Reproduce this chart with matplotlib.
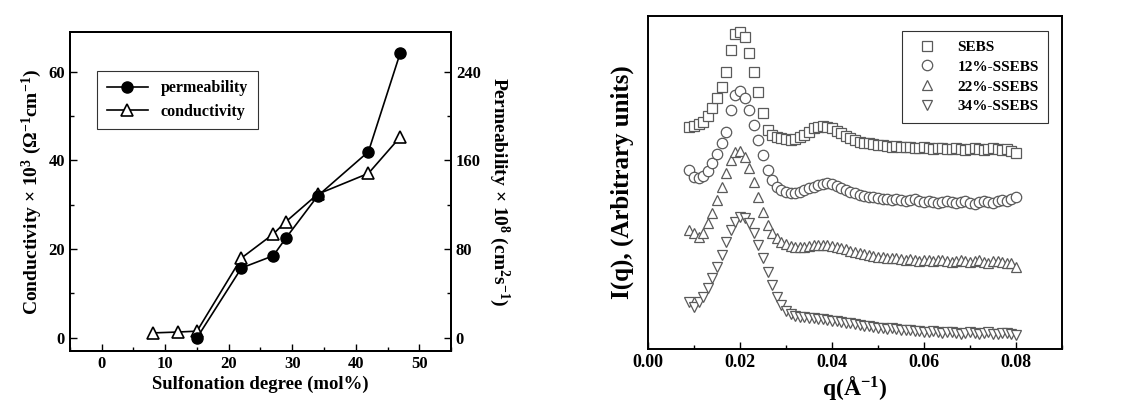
import matplotlib
matplotlib.use("Agg")
import matplotlib.pyplot as plt
from matplotlib.ticker import MultipleLocator, FormatStrFormatter

plt.rcParams['font.family'] = ['Liberation Serif', 'DejaVu Serif']
plt.rcParams['font.weight'] = 'bold'
plt.rcParams['mathtext.fontset'] = 'custom'
plt.rcParams['mathtext.rm'] = 'Liberation Serif:bold'
plt.rcParams['mathtext.it'] = 'Liberation Serif:bold'
plt.rcParams['mathtext.bf'] = 'Liberation Serif:bold'

# left panel: sulfonation degree data
cond_x = [8, 12, 15, 22, 27, 29, 34, 42, 47]
cond_y = [1.1, 1.3, 1.5, 18.0, 23.4, 26.2, 32.4, 37.1, 45.3]
perm_x = [15, 22, 27, 29, 34, 42, 47]
perm_y = [0, 63, 74, 90, 128, 168, 257]

# right panel: SAXS profiles (arbitrary units)
q = [0.009, 0.010, 0.011, 0.012, 0.013, 0.014, 0.015, 0.016, 0.017, 0.018,
     0.019, 0.020, 0.021, 0.022, 0.023, 0.024, 0.025, 0.026, 0.027, 0.028,
     0.029, 0.030, 0.031, 0.032, 0.033, 0.034, 0.035, 0.036, 0.037, 0.038,
     0.039, 0.040, 0.041, 0.042, 0.043, 0.044, 0.045, 0.046, 0.047, 0.048,
     0.049, 0.050, 0.051, 0.052, 0.053, 0.054, 0.055, 0.056, 0.057, 0.058,
     0.059, 0.060, 0.061, 0.062, 0.063, 0.064, 0.065, 0.066, 0.067, 0.068,
     0.069, 0.070, 0.071, 0.072, 0.073, 0.074, 0.075, 0.076, 0.077, 0.078,
     0.079, 0.080]
sebs = [667, 669, 675, 682, 699, 722, 752, 787, 832, 897, 947, 952, 937, 887,
        832, 772, 707, 657, 642, 637, 632, 629, 627, 629, 635, 642, 652, 662,
        667, 669, 667, 662, 655, 647, 639, 632, 627, 622, 619, 617, 615, 612,
        611, 609, 607, 610, 607, 605, 607, 604, 602, 605, 603, 600, 602, 604,
        601, 599, 602, 600, 598, 601, 603, 600, 597, 601, 603, 599, 597, 600,
        595, 589]
ssebs12 = [537, 517, 512, 519, 535, 557, 585, 617, 652, 717, 762, 775, 752, 717,
           672, 627, 582, 537, 507, 487, 477, 470, 467, 469, 472, 477, 482, 487,
           492, 495, 497, 495, 489, 482, 477, 472, 467, 462, 459, 457, 455, 453,
           451, 449, 447, 450, 447, 444, 447, 449, 445, 442, 445, 441, 437, 442,
           444, 440, 437, 441, 444, 439, 435, 441, 445, 442, 439, 444, 447, 445,
           449, 457]
ssebs22 = [357, 347, 337, 347, 377, 407, 447, 487, 527, 567, 592, 595, 577, 542,
           502, 457, 412, 372, 347, 332, 322, 315, 309, 305, 305, 307, 310, 312,
           313, 312, 311, 309, 306, 302, 299, 295, 291, 287, 284, 281, 279, 277,
           275, 273, 272, 274, 271, 268, 270, 267, 265, 268, 266, 263, 266, 268,
           265, 262, 265, 267, 263, 260, 264, 266, 262, 259, 263, 265, 261, 258,
           257, 247]
ssebs34 = [142, 127, 142, 157, 182, 212, 247, 282, 322, 357, 382, 395, 392, 377,
           347, 312, 272, 232, 192, 157, 132, 115, 105, 99, 97, 95, 94, 92,
           91, 89, 87, 85, 83, 81, 79, 77, 75, 73, 70, 68, 66, 64,
           63, 61, 62, 59, 57, 58, 56, 53, 55, 52, 50, 53, 51, 48,
           50, 52, 49, 46, 48, 50, 47, 45, 48, 50, 46, 44, 47, 49,
           45, 42]
saxs_labels = ['SEBS', '12%-SSEBS', '22%-SSEBS', '34%-SSEBS']
saxs_markers = ['s', 'o', '^', 'v']

fig = plt.figure(figsize=(11.25, 4.15), dpi=100)

# ---- left panel ----
ax = fig.add_axes([0.0622, 0.154, 0.3387, 0.769])
ax2 = ax.twinx()
l_cond, = ax.plot(cond_x, cond_y, '-', color='black', lw=1.2, marker='^',
                  ms=8.5, mfc='white', mec='black', mew=1.2, label='conductivity')
l_perm, = ax2.plot(perm_x, perm_y, '-', color='black', lw=1.2, marker='o',
                   ms=8, mfc='black', mec='black', label='permeability')
ax.set_xlim(-5, 55)
ax.set_ylim(-3, 69)
ax2.set_ylim(-12, 276)
ax.xaxis.set_major_locator(MultipleLocator(10))
ax.xaxis.set_minor_locator(MultipleLocator(5))
ax.yaxis.set_major_locator(MultipleLocator(20))
ax.yaxis.set_minor_locator(MultipleLocator(10))
ax2.yaxis.set_major_locator(MultipleLocator(80))
ax2.yaxis.set_minor_locator(MultipleLocator(40))
for a in (ax, ax2):
    a.tick_params(which='both', direction='in', labelsize=12)
    a.tick_params(which='major', length=5, width=1)
    a.tick_params(which='minor', length=3, width=1)
    for s in a.spines.values():
        s.set_linewidth(1.4)
ax.set_xlabel('Sulfonation degree (mol%)', fontsize=13.5, fontweight='bold', labelpad=3)
ax.set_ylabel('Conductivity × 10$^3$ (Ω$^{-1}$cm$^{-1}$)', fontsize=14,
              fontweight='bold', labelpad=3)
ax2.set_ylabel('Permeability × 10$^8$ (cm$^2$s$^{-1}$)', fontsize=14,
               fontweight='bold', rotation=270, labelpad=22)
leg = ax2.legend([l_perm, l_cond], ['permeability', 'conductivity'],
                 loc='upper left', bbox_to_anchor=(0.071, 0.878), fontsize=11.5,
                 frameon=True, fancybox=False, edgecolor='black',
                 handlelength=2.6, labelspacing=0.45, borderpad=0.6,
                 borderaxespad=0)
leg.get_frame().set_linewidth(0.8)

# ---- right panel ----
bx = fig.add_axes([0.576, 0.159, 0.368, 0.802])
for yv, lab, mk in zip([sebs, ssebs12, ssebs22, ssebs34], saxs_labels, saxs_markers):
    bx.plot(q, yv, linestyle='none', marker=mk, ms=7.5, mfc='white',
            mec='#5a5a5a', mew=0.9, label=lab)
bx.set_xlim(0, 0.09)
bx.set_ylim(0, 999)
bx.xaxis.set_major_locator(MultipleLocator(0.02))
bx.xaxis.set_minor_locator(MultipleLocator(0.01))
bx.xaxis.set_major_formatter(FormatStrFormatter('%.2f'))
bx.set_yticks([])
bx.tick_params(which='both', direction='in', labelsize=13)
bx.tick_params(which='major', length=5, width=1)
bx.tick_params(which='minor', length=3, width=1)
for s in bx.spines.values():
    s.set_linewidth(1.4)
bx.set_xlabel('q(Å$^{-1}$)', fontsize=17, fontweight='bold', labelpad=2)
bx.set_ylabel('I(q), (Arbitrary units)', fontsize=18, fontweight='bold', labelpad=10)
leg2 = bx.legend(loc='upper right', bbox_to_anchor=(0.966, 0.955), fontsize=11,
                 frameon=True, fancybox=False, edgecolor='black',
                 handletextpad=1.0, labelspacing=0.4, borderpad=0.6,
                 borderaxespad=0)
leg2.get_frame().set_linewidth(0.8)

fig.savefig('out.png', dpi=100)
